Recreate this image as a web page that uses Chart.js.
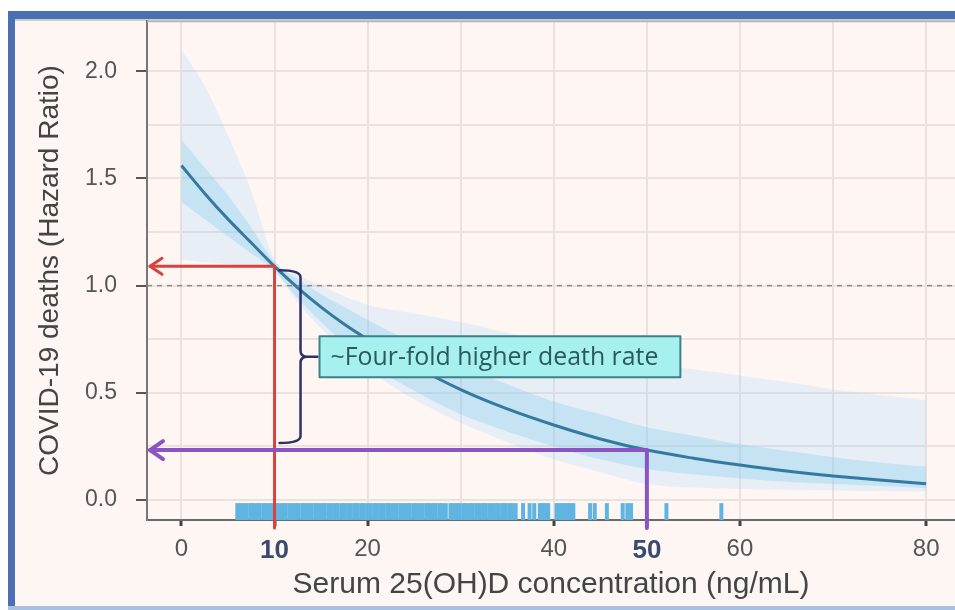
<!DOCTYPE html>
<html><head><meta charset="utf-8">
<script src="https://cdn.jsdelivr.net/npm/chart.js@4/dist/chart.umd.min.js"></script>
<style>
html,body{margin:0;padding:0;background:#fff;overflow:hidden;}
canvas{display:block;}
</style></head><body>
<canvas id="c" width="955" height="610"></canvas>
<script>
// ---- data ----
const concentration = [0, 2.5, 5, 7.5, 10, 12.5, 15, 17.5, 20, 25, 30, 35, 40, 45, 50, 55, 60, 65, 70, 75, 80];
const hazardRatio   = [1.56, 1.43, 1.31, 1.20, 1.09, 0.99, 0.90, 0.82, 0.75, 0.625, 0.515, 0.425, 0.35, 0.285, 0.233, 0.195, 0.163, 0.135, 0.112, 0.093, 0.076];
const innerUpper    = [1.68, 1.55, 1.42, 1.27, 1.11, 1.03, 0.96, 0.90, 0.84, 0.73, 0.63, 0.54, 0.46, 0.40, 0.34, 0.30, 0.26, 0.23, 0.20, 0.175, 0.155];
const innerLower    = [1.39, 1.31, 1.23, 1.15, 1.07, 0.94, 0.83, 0.73, 0.64, 0.51, 0.40, 0.32, 0.25, 0.19, 0.145, 0.12, 0.10, 0.085, 0.075, 0.065, 0.055];
const outerUpper    = [2.10, 1.93, 1.70, 1.44, 1.12, 1.05, 1.00, 0.95, 0.91, 0.87, 0.83, 0.78, 0.73, 0.68, 0.63, 0.61, 0.58, 0.55, 0.515, 0.49, 0.466];
const outerLower    = [1.12, 1.11, 1.10, 1.09, 1.06, 0.92, 0.80, 0.70, 0.61, 0.47, 0.36, 0.27, 0.19, 0.13, 0.075, 0.058, 0.052, 0.048, 0.045, 0.042, 0.04];
const rugValues = [6.0, 6.3, 6.7, 7.0, 7.4, 7.7, 8.1, 8.4, 8.8, 9.1, 9.5, 9.8, 10.2, 10.5, 10.9, 11.2, 11.6, 11.9, 12.3, 12.6,
  13.0, 13.3, 13.7, 14.0, 14.4, 14.7, 15.1, 15.4, 15.8, 16.1, 16.5, 16.8, 17.2, 17.5, 17.9, 18.2, 18.6, 18.9, 19.3, 19.6,
  20.0, 20.3, 20.7, 21.0, 21.4, 21.7, 22.1, 22.4, 22.8, 23.1, 23.5, 23.8, 24.2, 24.5, 24.9, 25.2, 25.6, 25.9, 26.3, 26.6,
  27.0, 27.3, 27.7, 28.0, 28.4, 28.9, 29.2, 29.6, 29.9, 30.3, 30.6, 31.0, 31.3, 31.7, 32.0, 32.4, 32.7, 33.1, 33.4, 33.8,
  34.1, 34.5, 34.8, 35.2, 35.5, 35.9, 36.7, 37.4, 37.9, 38.5, 38.8, 39.1, 39.4, 40.3, 40.6, 40.9, 41.2, 41.5, 41.8, 42.1,
  43.9, 44.4, 45.7, 47.4, 47.9, 48.3, 52.1, 58.0];
const xTickValues = [0, 10, 20, 40, 50, 60, 80];
const xHighlightTicks = [10, 50];
const yTickValues = [0, 0.5, 1.0, 1.5, 2.0];
const referenceHR = 1.0;
const xTitle = 'Serum 25(OH)D concentration (ng/mL)';
const yTitle = 'COVID-19 deaths (Hazard Ratio)';
const noteText = '~Four-fold higher death rate';

const pts = (ys) => concentration.map((x, i) => ({x, y: ys[i]}));
const isMajorY = v => yTickValues.some(t => Math.abs(t - v) < 1e-6);
const isLabeledX = v => xTickValues.some(t => Math.abs(t - v) < 1e-6);
const isHighlightX = v => xHighlightTicks.some(t => Math.abs(t - v) < 1e-6);
const tickVal = ctx => (ctx && ctx.tick) ? ctx.tick.value : NaN;

Chart.defaults.font.family = "'Liberation Sans', Arial, sans-serif";

const framePlugin = {
  id: 'frame',
  beforeDraw(chart) {
    const c = chart.ctx, W = chart.width, H = chart.height;
    c.save();
    c.fillStyle = '#ffffff'; c.fillRect(0, 0, W, H);
    c.fillStyle = '#4a6fb3'; c.fillRect(8, 11, W - 8, 8); c.fillRect(8, 11, 7, H - 11);
    c.fillStyle = '#fdf6f3'; c.fillRect(15, 19, W - 15, H - 23);
    c.fillStyle = '#c9ccd4'; c.fillRect(15, 19, W - 15, 2);
    c.fillStyle = '#a8c1e0'; c.fillRect(8, H - 4, W - 8, 4);
    c.restore();
  },
  beforeDatasetsDraw(chart) {
    const c = chart.ctx, a = chart.chartArea;
    c.save();
    c.strokeStyle = '#b9b4b4'; c.lineWidth = 1.5;
    c.beginPath(); c.moveTo(a.left, a.top + 0.5); c.lineTo(a.right, a.top + 0.5); c.stroke();
    c.restore();
  }
};

function chevron(c, tipX, y, len, half) {
  c.beginPath();
  c.moveTo(tipX + len, y - half); c.lineTo(tipX, y); c.lineTo(tipX + len, y + half);
  c.stroke();
}

const notesPlugin = {
  id: 'notes',
  afterDatasetsDraw(chart) {
    const c = chart.ctx, a = chart.chartArea, xs = chart.scales.x, ys = chart.scales.y;
    c.save();
    const y1 = ys.getPixelForValue(referenceHR);
    c.strokeStyle = '#8d8a8a'; c.lineWidth = 1.5; c.setLineDash([5, 5]);
    c.beginPath(); c.moveTo(a.left, y1); c.lineTo(a.right, y1); c.stroke();
    c.setLineDash([]);
    c.lineJoin = 'round'; c.lineCap = 'round';

    const i10 = concentration.indexOf(xHighlightTicks[0]);
    const i50 = concentration.indexOf(xHighlightTicks[1]);
    const xr = xs.getPixelForValue(xHighlightTicks[0]);
    const yr = ys.getPixelForValue(hazardRatio[i10]);
    const xp = xs.getPixelForValue(xHighlightTicks[1]);
    const yp = ys.getPixelForValue(hazardRatio[i50]);
    const tip = a.left + 3;
    const bottomEnd = a.bottom + 8;

    c.strokeStyle = '#d9423f'; c.lineWidth = 3;
    c.beginPath(); c.moveTo(tip, yr); c.lineTo(xr, yr); c.lineTo(xr, bottomEnd); c.stroke();
    chevron(c, tip, yr, 12, 8);

    c.strokeStyle = '#8b54c2'; c.lineWidth = 4;
    c.beginPath(); c.moveTo(tip, yp); c.lineTo(xp, yp); c.lineTo(xp, bottomEnd); c.stroke();
    chevron(c, tip, yp, 13, 9);

    const top = yr + 4, bot = yp - 7, mid = (top + bot) / 2;
    const xL = xr + 5, xV = xr + 26, xT = xV + 17;
    c.strokeStyle = '#2d3268'; c.lineWidth = 2.5;
    c.beginPath();
    c.moveTo(xL, top);
    c.quadraticCurveTo(xV, top, xV, top + 7);
    c.lineTo(xV, mid - 6);
    c.quadraticCurveTo(xV, mid, xV + 7, mid);
    c.lineTo(xT, mid);
    c.moveTo(xV + 7, mid);
    c.quadraticCurveTo(xV, mid, xV, mid + 6);
    c.lineTo(xV, bot - 7);
    c.quadraticCurveTo(xV, bot, xL, bot);
    c.stroke();

    let fs = 22;
    c.font = fs + "px 'Open Sans', 'Noto Sans', sans-serif";
    const w0 = c.measureText(noteText).width;
    fs = fs * 328 / w0;
    c.font = fs.toFixed(2) + "px 'Open Sans', 'Noto Sans', sans-serif";
    const tw = c.measureText(noteText).width;
    const bx = xT + 2, bh = 41, by = mid - bh / 2, bw = tw + 33;
    c.fillStyle = '#a6f0f0';
    c.fillRect(bx, by, bw, bh);
    c.strokeStyle = '#3f8088'; c.lineWidth = 2;
    c.strokeRect(bx, by, bw, bh);
    c.fillStyle = '#2b5a5d'; c.textBaseline = 'middle'; c.textAlign = 'left';
    c.fillText(noteText, bx + 11, mid + 1);
    c.restore();
  }
};

new Chart(document.getElementById('c'), {
  type: 'line',
  data: {
    datasets: [
      { label: 'Hazard ratio', data: pts(hazardRatio), borderColor: '#35799f', borderWidth: 3,
        pointRadius: 0, fill: false, cubicInterpolationMode: 'monotone' },
      { label: 'Observations', data: rugValues.map(v => ({x: v, y: -0.054})), showLine: false,
        pointStyle: 'line', rotation: 90, pointRadius: 8.5, borderColor: '#60b4e2', borderWidth: 4,
        backgroundColor: '#60b4e2' },
      { label: 'inner upper', data: pts(innerUpper), borderWidth: 0, pointRadius: 0,
        fill: '+1', backgroundColor: 'rgba(110,200,240,0.28)', cubicInterpolationMode: 'monotone' },
      { label: 'inner lower', data: pts(innerLower), borderWidth: 0, pointRadius: 0,
        fill: false, cubicInterpolationMode: 'monotone' },
      { label: 'outer upper', data: pts(outerUpper), borderWidth: 0, pointRadius: 0,
        fill: '+1', backgroundColor: 'rgba(160,210,255,0.22)', cubicInterpolationMode: 'monotone' },
      { label: 'outer lower', data: pts(outerLower), borderWidth: 0, pointRadius: 0,
        fill: false, cubicInterpolationMode: 'monotone' }
    ]
  },
  options: {
    responsive: false, animation: false, events: [],
    layout: { autoPadding: false, padding: { top: 21, right: 0, bottom: 0, left: 0 } },
    plugins: { legend: { display: false }, tooltip: { enabled: false } },
    scales: {
      x: {
        type: 'linear', min: -3.7, max: 83.1,
        afterFit: s => { s.height = 90; s.paddingLeft = 0; s.paddingRight = 0; },
        border: { display: true, color: '#6a6a6a', width: 2 },
        grid: { color: '#ebe1de', lineWidth: 2, tickLength: 6,
          tickColor: ctx => isLabeledX(tickVal(ctx)) ? '#444' : 'rgba(0,0,0,0)', tickWidth: 3 },
        ticks: { stepSize: 10, includeBounds: false, autoSkip: false, maxRotation: 0, padding: 9,
          callback: v => isLabeledX(v) ? String(Math.round(v)) : '',
          color: ctx => isHighlightX(tickVal(ctx)) ? '#3a4a6c' : '#555',
          font: ctx => isHighlightX(tickVal(ctx)) ? { size: 26, weight: 'bold' } : { size: 24 } },
        title: { display: true, text: xTitle, color: '#444', font: { size: 30 }, padding: { top: 0, bottom: 7 } }
      },
      y: {
        type: 'linear', min: -0.093, max: 2.234,
        afterFit: s => { s.width = 147; s.paddingTop = 0; s.paddingBottom = 0; },
        border: { display: true, color: '#777', width: 2 },
        grid: { color: '#ebe1de', lineWidth: 2, tickLength: 11,
          tickColor: ctx => isMajorY(tickVal(ctx)) ? '#555' : 'rgba(0,0,0,0)', tickWidth: 2 },
        ticks: { stepSize: 0.25, includeBounds: false, autoSkip: false, padding: 19, color: '#555',
          font: { size: 23 },
          callback: v => isMajorY(v) ? v.toFixed(1) : '' },
        title: { display: true, text: yTitle, color: '#444', font: { size: 28 }, padding: { top: 33, bottom: 0 } }
      }
    }
  },
  plugins: [framePlugin, notesPlugin]
});
</script>
</body></html>
